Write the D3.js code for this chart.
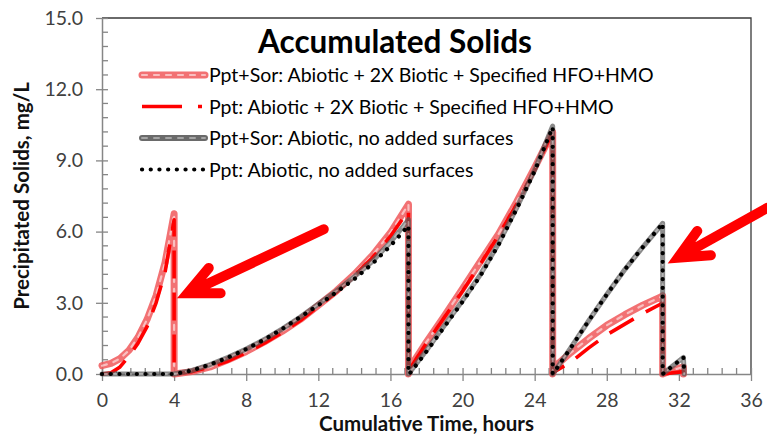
<!DOCTYPE html>
<html>
<head>
<meta charset="utf-8">
<script src="https://cdn.jsdelivr.net/npm/d3@7"></script>
<style>
  body { margin: 0; background: #fff; }
  svg { display: block; }
  text { font-family: Lato, "Open Sans", sans-serif; }
</style>
</head>
<body>
<svg id="chart" width="767" height="436"></svg>
<script>
// ---------- data ----------
const chartTitle = "Accumulated Solids";
const xLabel = "Cumulative Time, hours";
const yLabel = "Precipitated Solids, mg/L";
const xTickValues = [0, 4, 8, 12, 16, 20, 24, 28, 32, 36];
const yTickValues = [0, 3, 6, 9, 12, 15];

const seriesNames = [
  "Ppt+Sor: Abiotic + 2X Biotic + Specified HFO+HMO",
  "Ppt: Abiotic + 2X Biotic + Specified HFO+HMO",
  "Ppt+Sor: Abiotic, no added surfaces",
  "Ppt: Abiotic, no added surfaces"
];

// Ppt+Sor, abiotic + 2X biotic + HFO/HMO
const tSorBio = [0, 0.5, 1, 1.5, 2, 2.5, 3, 3.5, 4, 4,
  5, 6, 7, 8, 9, 10, 11, 12, 13, 14, 15, 16, 17, 17,
  17.1, 18, 19, 20, 21, 22, 23, 24, 25, 25,
  25.1, 26, 27, 28, 29, 30, 31, 31.1, 31.1,
  31.6, 32.25, 32.25];
const vSorBio = [0.35, 0.45, 0.65, 1.0, 1.55, 2.3, 3.3, 4.7, 6.75, 0,
  0.1, 0.3, 0.6, 0.95, 1.35, 1.8, 2.3, 2.9, 3.5, 4.2, 5.0, 5.95, 7.15, 0,
  0.3, 1.35, 2.45, 3.6, 4.75, 5.9, 7.25, 8.7, 10.2, 0,
  0.3, 0.9, 1.5, 2.05, 2.5, 2.9, 3.25, 3.3, 0,
  0.15, 0.3, 0];

// Ppt, abiotic + 2X biotic + HFO/HMO
const tPptBio = [0, 0.5, 1, 1.5, 2, 2.5, 3, 3.5, 4, 4,
  5, 6, 7, 8, 9, 10, 11, 12, 13, 14, 15, 16, 17, 17,
  17.1, 18, 19, 20, 21, 22, 23, 24, 25, 25,
  25.1, 26, 27, 28, 29, 30, 31, 31.1, 31.1,
  32.25, 32.25];
const vPptBio = [0, 0.05, 0.3, 0.75, 1.3, 2.0, 3.0, 4.3, 6.5, 0,
  0.1, 0.3, 0.55, 0.9, 1.3, 1.75, 2.25, 2.85, 3.45, 4.15, 4.9, 5.8, 6.9, 0,
  0.25, 1.3, 2.4, 3.5, 4.65, 5.85, 7.15, 8.6, 10.2, 0,
  0.1, 0.5, 1.1, 1.65, 2.1, 2.55, 2.95, 3.0, 0,
  0.1, 0];

// Ppt+Sor, abiotic only
const tSorAbio = [0, 4,
  5, 6, 7, 8, 9, 10, 11, 12, 13, 14, 15, 16, 17, 17,
  17.1, 18, 19, 20, 21, 22, 23, 24, 25, 25,
  25.1, 26, 27, 28, 29, 30, 31, 31.1, 31.1,
  32.25, 32.3];
const vSorAbio = [0, 0,
  0.15, 0.4, 0.7, 1.05, 1.45, 1.9, 2.4, 2.95, 3.5, 4.1, 4.75, 5.55, 6.5, 0,
  0.1, 1.0, 2.05, 3.1, 4.2, 5.5, 7.0, 8.6, 10.45, 0,
  0.1, 1.1, 2.25, 3.35, 4.4, 5.35, 6.25, 6.35, 0,
  0.7, 0];

// Ppt, abiotic only
const tPptAbio = [0, 4,
  5, 6, 7, 8, 9, 10, 11, 12, 13, 14, 15, 16, 17, 17,
  17.1, 18, 19, 20, 21, 22, 23, 24, 25, 25,
  25.1, 26, 27, 28, 29, 30, 31, 31.1, 31.1,
  32.25, 32.3];
const vPptAbio = [0, 0,
  0.15, 0.4, 0.7, 1.05, 1.45, 1.9, 2.4, 2.9, 3.45, 4.0, 4.65, 5.4, 6.25, 0,
  0.05, 0.95, 2.0, 3.05, 4.15, 5.45, 6.95, 8.55, 10.4, 0,
  0.1, 1.1, 2.25, 3.35, 4.4, 5.35, 6.25, 6.35, 0,
  0.7, 0];

// call-out arrows, in (hours, mg/L): from tail to tip
const arrowTails = [[12.3, 6.1], [36.9, 7.0]];
const arrowTips  = [[4.75, 3.4], [31.95, 4.9]];

// ---------- layout ----------
const svg = d3.select("#chart");
const x = d3.scaleLinear().domain([0, 36]).range([102, 751]);
const y = d3.scaleLinear().domain([0, 15]).range([374, 18]);
const axisGrey = "#868686";
const labelColor = "#404040";

// frame: top and right edges
svg.append("path")
  .attr("d", `M${x(0)},${y(15)}H${x(36)}V${y(0)}`)
  .attr("fill", "none").attr("stroke", "#3a3a3a").attr("stroke-width", 1.3);

// minor ticks (inside)
const xMinor = d3.range(0, 36.001, 0.8).filter(v => Math.abs(v / 4 - Math.round(v / 4)) > 1e-6);
const yMinor = d3.range(0, 15.001, 0.6).filter(v => Math.abs(v / 3 - Math.round(v / 3)) > 1e-6);

const gx = svg.append("g").attr("transform", `translate(0,${y(0)})`);
gx.call(d3.axisBottom(x).tickValues(xTickValues).tickSize(7).tickPadding(12).tickSizeOuter(0).tickFormat(d3.format("d")));
gx.selectAll(".tick line").attr("y1", -6).attr("y2", 7);
gx.append("g").selectAll("line").data(xMinor).join("line")
  .attr("x1", d => x(d)).attr("x2", d => x(d)).attr("y1", 0).attr("y2", -6)
  .attr("stroke", axisGrey).attr("stroke-width", 1.3);

const gy = svg.append("g").attr("transform", `translate(${x(0)},0)`);
gy.call(d3.axisLeft(y).tickValues(yTickValues).tickSize(6).tickPadding(13).tickSizeOuter(0).tickFormat(d3.format(".1f")));
gy.selectAll(".tick line").attr("x1", 6).attr("x2", -6);
gy.append("g").selectAll("line").data(yMinor).join("line")
  .attr("y1", d => y(d)).attr("y2", d => y(d)).attr("x1", 0).attr("x2", 6)
  .attr("stroke", axisGrey).attr("stroke-width", 1.3);

[gx, gy].forEach(g => {
  g.select(".domain").attr("stroke", axisGrey).attr("stroke-width", 1.5);
  g.selectAll(".tick line").attr("stroke", axisGrey).attr("stroke-width", 1.3);
  g.selectAll(".tick text").attr("fill", labelColor)
    .style("font-family", "Lato, sans-serif").style("font-size", "19.5px");
});

// axis titles
svg.append("text").attr("x", (x(0) + x(36)) / 2).attr("y", 431)
  .attr("text-anchor", "middle").attr("font-weight", "bold").attr("font-size", 20.5)
  .attr("fill", "#111").text(xLabel);
svg.append("text")
  .attr("transform", `translate(29,${(y(0) + y(15)) / 2}) rotate(-90)`)
  .attr("text-anchor", "middle").attr("font-weight", "bold").attr("font-size", 20.5)
  .attr("fill", "#111").text(yLabel);

// chart title
svg.append("text").attr("x", 395).attr("y", 53)
  .attr("text-anchor", "middle").attr("font-weight", "bold").attr("font-size", 31.5)
  .attr("fill", "#000").text(chartTitle);

// ---------- series ----------
const line = d3.line().x(d => x(d[0])).y(d => y(d[1]));
const zipPts = (ts, vs) => ts.map((t, i) => [t, vs[i]]);

// each style is a stack of strokes drawn in order
const styles = [
  [ // thick soft red with light streaks
    { stroke: "#f0585a", width: 7, opacity: 0.85 },
    { stroke: "#ffffff", width: 2.2, opacity: 0.55, dash: "5 7" }
  ],
  [ // red long dash
    { stroke: "#ff0000", width: 3.6, dash: "28 14", cap: "butt" }
  ],
  [ // grey with light streaks
    { stroke: "#5a5a5a", width: 5, opacity: 0.7 },
    { stroke: "#e0e0e0", width: 1.8, opacity: 0.5, dash: "5 7" }
  ],
  [ // black round dots
    { stroke: "#000000", width: 4.2, dash: "0.1 8.6", cap: "round" }
  ]
];
const legendStyles = [
  styles[0],
  [{ stroke: "#ff0000", width: 3.6, dash: "40 16 4 30", cap: "butt" }],
  [
    { stroke: "#5a5a5a", width: 6, opacity: 0.9 },
    { stroke: "#e0e0e0", width: 2, opacity: 0.5, dash: "5 7" }
  ],
  styles[3]
];

const seriesData = [
  zipPts(tSorBio, vSorBio),
  zipPts(tPptBio, vPptBio),
  zipPts(tSorAbio, vSorAbio),
  zipPts(tPptAbio, vPptAbio)
];

const gSeries = svg.append("g");
function strokePath(sel, s) {
  sel.attr("fill", "none")
    .attr("stroke", s.stroke)
    .attr("stroke-width", s.width)
    .attr("stroke-opacity", s.opacity ?? 1)
    .attr("stroke-dasharray", s.dash || null)
    .attr("stroke-linecap", s.cap || "round")
    .attr("stroke-linejoin", "round");
}
seriesData.forEach((pts, i) => {
  styles[i].forEach(s => {
    gSeries.append("path").attr("d", line(pts)).call(strokePath, s);
  });
});

// ---------- legend ----------
const legendRowY = [75, 106.5, 138, 169.5];
const gLegend = svg.append("g");
seriesNames.forEach((name, i) => {
  const ly = legendRowY[i];
  legendStyles[i].forEach(s => {
    gLegend.append("path").attr("d", `M142,${ly}H205`).call(strokePath, s);
  });
  gLegend.append("text").attr("x", 209).attr("y", ly + 7)
    .attr("font-size", 19.5).attr("fill", "#000").text(name);
});

// ---------- call-out arrows ----------
const gArrows = svg.append("g");
const armLen = 33, armAngle = 25 * Math.PI / 180;
arrowTips.forEach((tip, i) => {
  const tx = x(tip[0]), ty = y(tip[1]);
  const sx = x(arrowTails[i][0]), sy = y(arrowTails[i][1]);
  const a = Math.atan2(sy - ty, sx - tx);
  const a1 = [tx + armLen * Math.cos(a - armAngle), ty + armLen * Math.sin(a - armAngle)];
  const a2 = [tx + armLen * Math.cos(a + armAngle), ty + armLen * Math.sin(a + armAngle)];
  gArrows.append("path")
    .attr("d", `M${sx},${sy}L${tx},${ty}M${a1[0]},${a1[1]}L${tx},${ty}L${a2[0]},${a2[1]}`)
    .attr("fill", "none").attr("stroke", "#ff0000").attr("stroke-width", 10)
    .attr("stroke-linecap", "round").attr("stroke-linejoin", "miter");
});
</script>
</body>
</html>
